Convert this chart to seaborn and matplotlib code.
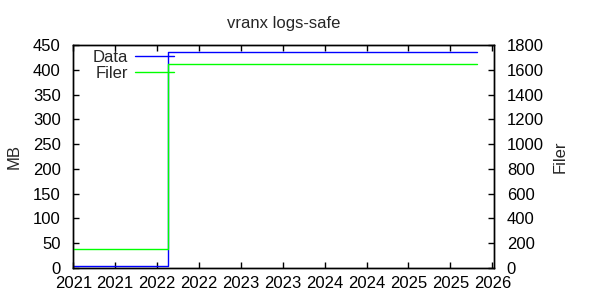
import matplotlib
matplotlib.use("Agg")
import matplotlib.pyplot as plt
import seaborn as sns
import pandas as pd

# ---- data ----
data_years = [2021.0, 2022.13, 2025.82]
data_mb = [4, 435, 435]
filer_years = [2021.0, 2022.13, 2025.82]
filer_vals = [150, 1644, 1644]
xticks = [2021.0, 2021.5, 2022.0, 2022.5, 2023.0, 2023.5, 2024.0, 2024.5, 2025.0, 2025.5, 2026.0]
xtick_labels = ["2021", "2021", "2022", "2022", "2023", "2023", "2024", "2024", "2025", "2025", "2026"]
left_ticks = [0, 50, 100, 150, 200, 250, 300, 350, 400, 450]
right_ticks = [0, 200, 400, 600, 800, 1000, 1200, 1400, 1600, 1800]
title = "vranx logs-safe"

sns.set_style("white")
plt.rcParams['font.family'] = ['Liberation Sans', 'DejaVu Sans']
FS = 12

fig = plt.figure(figsize=(6, 3), dpi=100)
ax = fig.add_axes([73.3/600, 1-268/300, (494.3-73.3)/600, (268-45)/300])
ax2 = ax.twinx()

df1 = pd.DataFrame({"x": data_years, "y": data_mb})
df2 = pd.DataFrame({"x": filer_years, "y": filer_vals})
sns.lineplot(data=df1, x="x", y="y", ax=ax, color="#0000ff", lw=1, drawstyle="steps-post", label="Data", legend=False)
sns.lineplot(data=df2, x="x", y="y", ax=ax2, color="#00ff00", lw=1, drawstyle="steps-post", label="Filer", legend=False)

ax.set_xlim(2021.0, 2026.024)
ax.set_ylim(0, 450)
ax2.set_ylim(0, 1800)
ax.set_xticks(xticks)
ax.set_xticklabels(xtick_labels, fontsize=FS)
ax.set_yticks(left_ticks)
ax.set_yticklabels([str(v) for v in left_ticks], fontsize=FS)
ax2.set_yticks(right_ticks)
ax2.set_yticklabels([str(v) for v in right_ticks], fontsize=FS)

ax.tick_params(axis='x', direction='in', length=4, width=1, top=True, bottom=True, pad=6, colors='black')
ax.tick_params(axis='y', direction='in', length=4, width=1, left=True, right=False, pad=9, colors='black')
ax2.tick_params(axis='y', direction='in', length=4, width=1, right=True, left=False, pad=9, colors='black')
ax2.tick_params(axis='x', top=False, bottom=False)

for a in (ax, ax2):
    for s in a.spines.values():
        s.set_color('black')
        s.set_linewidth(1)

ax.set_xlabel("")
ax.set_ylabel("MB", fontsize=FS, labelpad=8)
ax2.set_ylabel("Filer", fontsize=FS, labelpad=6)
ax.set_title(title, fontsize=FS, pad=12)

h1, l1 = ax.get_legend_handles_labels()
h2, l2 = ax2.get_legend_handles_labels()
leg = ax.legend(h1 + h2, l1 + l2, loc='upper left', bbox_to_anchor=(93/600, 1-50/300),
                bbox_transform=fig.transFigure, frameon=False, markerfirst=False,
                fontsize=FS, handlelength=2.35, handletextpad=0.4, labelspacing=0.05,
                borderpad=0, borderaxespad=0)
for t in leg.get_texts():
    t.set_ha('right')

fig.savefig("out.png", dpi=100)
